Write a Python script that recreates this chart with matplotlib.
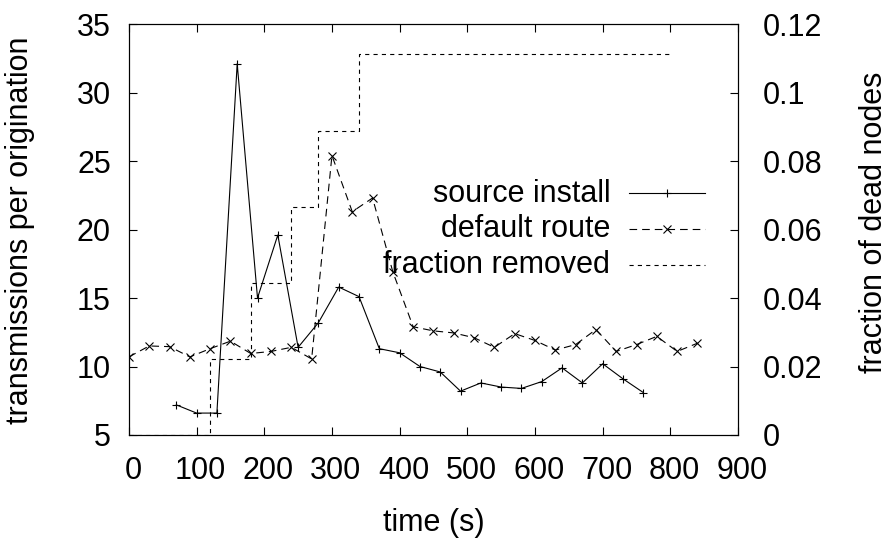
import matplotlib
matplotlib.use("Agg")
import matplotlib.pyplot as plt
import matplotlib.transforms as mtransforms

# ---- data ----
source_x = [70, 100, 130, 160, 190, 220, 250, 280, 310, 340, 370, 400,
            430, 460, 490, 520, 550, 580, 610, 640, 670, 700, 730, 760]
source_y = [7.2, 6.6, 6.6, 32.1, 15.0, 19.6, 11.4, 13.2, 15.8, 15.1, 11.3, 11.0,
            10.0, 9.6, 8.2, 8.8, 8.5, 8.4, 8.9, 9.9, 8.8, 10.2, 9.1, 8.1]

default_x = [0, 30, 60, 90, 120, 150, 180, 210, 240, 270, 300, 330, 360, 390,
             420, 450, 480, 510, 540, 570, 600, 630, 660, 690, 720, 750, 780,
             810, 840]
default_y = [10.7, 11.5, 11.45, 10.7, 11.3, 11.85, 10.95, 11.1, 11.4, 10.55,
             25.4, 21.3, 22.3, 16.9, 12.9, 12.6, 12.45, 12.1, 11.4, 12.4, 11.9,
             11.2, 11.6, 12.7, 11.1, 11.6, 12.2, 11.1, 11.7]

frac_x = [0, 120, 180, 240, 280, 340, 800]
frac_y = [0, 0.0222, 0.0444, 0.0667, 0.0889, 0.1111, 0.1111]

x_ticks = [0, 100, 200, 300, 400, 500, 600, 700, 800, 900]
y_ticks = [5, 10, 15, 20, 25, 30, 35]
y2_ticks = [0, 0.02, 0.04, 0.06, 0.08, 0.1, 0.12]
y2_labels = ["0", "0.02", "0.04", "0.06", "0.08", "0.1", "0.12"]

labels = ["source install", "default route", "fraction removed"]

# ---- style ----
plt.rcParams['font.family'] = ['Liberation Sans', 'DejaVu Sans']
plt.rcParams['font.size'] = 22
plt.rcParams['lines.scale_dashes'] = False

FS = 22
LW = 0.8
dash_default = (0, (5.5, 3.6))
dash_frac = (0, (3.0, 3.0))
MS_PLUS = 6.0
MS_X = 5.6

fig = plt.figure(figsize=(8.89, 5.39), dpi=100)
ax = fig.add_axes([0.1450, 0.19295, 0.6852, 0.7625])
ax2 = ax.twinx()

ax.plot(source_x, source_y, color='black', lw=LW, marker='+', ms=MS_PLUS,
        mew=LW, label=labels[0])
ax.plot(default_x, default_y, color='black', lw=LW, linestyle=dash_default,
        marker='x', ms=MS_X, mew=LW, label=labels[1])
ax2.plot(frac_x, frac_y, color='black', lw=LW, linestyle=dash_frac,
         drawstyle='steps-post', label=labels[2])

ax.set_xlim(0, 900)
ax.set_ylim(5, 35)
ax2.set_ylim(0, 0.12)
ax.set_xticks(x_ticks)
ax.set_yticks(y_ticks)
ax2.set_yticks(y2_ticks)
ax2.set_yticklabels(y2_labels)

ax.tick_params(axis='x', direction='in', length=5.8, width=LW, top=True,
               pad=15.0, labelsize=FS)
ax.tick_params(axis='y', direction='in', length=5.8, width=LW, right=False,
               pad=12.9, labelsize=FS)
ax2.tick_params(axis='y', direction='in', length=5.8, width=LW, pad=17.8,
                labelsize=FS)

for a in (ax, ax2):
    for s in a.spines.values():
        s.set_linewidth(LW)
        s.set_color('black')

# shift x tick labels slightly right as in reference
offset = mtransforms.ScaledTranslation(0.04, 0, fig.dpi_scale_trans)
for lab in ax.get_xticklabels():
    lab.set_transform(lab.get_transform() + offset)

ax.set_xlabel("time (s)", fontsize=FS)
ax.xaxis.set_label_coords(0.5, -0.2336)
ax.xaxis.label.set_va('baseline')

ax.set_ylabel("transmissions per origination", fontsize=FS)
ax.yaxis.set_label_coords(-0.165, 0.4988)
ax.yaxis.label.set_va('baseline')

ax2.set_ylabel("fraction of dead nodes", fontsize=FS)
ax2.yaxis.set_label_coords(1.2359, 0.517)
ax2.yaxis.label.set_rotation(90)
ax2.yaxis.label.set_va('baseline')

# ---- legend (text right aligned, sample on the right) ----
text_x = 0.790
l0, l1 = 0.821, 0.946
text_y = [0.5676, 0.481, 0.3934]
line_y = [0.588, 0.5012, 0.4126]
styles = [dict(linestyle='-', marker='+', ms=MS_PLUS),
          dict(linestyle=dash_default, marker='x', ms=MS_X),
          dict(linestyle=dash_frac, marker=None, ms=0)]
for lab, ty, ly, st in zip(labels, text_y, line_y, styles):
    ax.text(text_x, ty, lab, transform=ax.transAxes, ha='right',
            va='baseline', fontsize=FS)
    ax.plot([l0, l1], [ly, ly], transform=ax.transAxes, color='black',
            lw=LW, linestyle=st['linestyle'], clip_on=False)
    if st['marker']:
        ax.plot([(l0 + l1) / 2], [ly], transform=ax.transAxes, color='black',
                marker=st['marker'], ms=st['ms'], mew=LW, linestyle='none',
                clip_on=False)

fig.savefig("out.png", dpi=100)
